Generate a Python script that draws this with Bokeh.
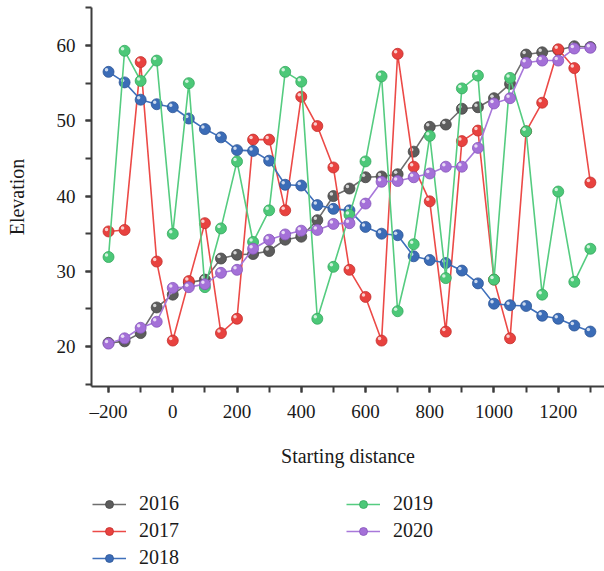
from bokeh.plotting import figure
from bokeh.models import Range1d, Legend, LegendItem, SingleIntervalTicker
from bokeh.layouts import column
from bokeh.embed import file_html
from bokeh.resources import INLINE

distance = [-200, -150, -100, -50, 0, 50, 100, 150, 200, 250, 300, 350, 400, 450, 500, 550,
            600, 650, 700, 750, 800, 850, 900, 950, 1000, 1050, 1100, 1150, 1200, 1250, 1300]

elev_2016 = [20.5, 20.7, 21.8, 25.2, 26.9, 28.5, 28.9, 31.7, 32.2, 32.3, 32.7, 34.2, 34.6, 36.8, 40.0, 41.0,
             42.5, 42.6, 42.9, 45.9, 49.2, 49.5, 51.6, 51.8, 53.0, 54.9, 58.8, 59.1, 59.4, 59.9, 59.8]
elev_2017 = [35.3, 35.5, 57.8, 31.3, 20.8, 28.7, 36.4, 21.8, 23.7, 47.5, 47.5, 38.1, 53.2, 49.3, 43.8, 30.2,
             26.6, 20.8, 58.9, 43.9, 39.3, 22.0, 47.3, 48.7, 28.9, 21.1, 48.6, 52.4, 59.5, 57.0, 41.8]
elev_2018 = [56.5, 55.1, 52.8, 52.2, 51.8, 50.3, 48.9, 47.8, 46.1, 46.0, 44.7, 41.5, 41.4, 38.8, 38.3, 38.1,
             35.9, 35.0, 34.8, 32.0, 31.5, 31.1, 30.1, 28.4, 25.7, 25.5, 25.4, 24.1, 23.7, 22.8, 22.0]
elev_2019 = [31.9, 59.3, 55.3, 58.0, 35.0, 55.0, 27.9, 35.7, 44.6, 33.9, 38.1, 56.5, 55.2, 23.7, 30.6, 37.5,
             44.6, 55.9, 24.7, 33.6, 48.0, 29.1, 54.3, 56.0, 28.9, 55.7, 48.6, 26.9, 40.6, 28.6, 33.0]
elev_2020 = [20.4, 21.1, 22.5, 23.3, 27.8, 27.9, 28.3, 29.8, 30.2, 33.0, 34.2, 34.9, 35.4, 35.5, 36.3, 36.4,
             39.0, 41.9, 42.0, 42.5, 43.0, 43.9, 43.9, 46.4, 52.3, 53.0, 57.7, 58.0, 58.0, 59.6, 59.7]

years = ["2016", "2017", "2018", "2019", "2020"]
series = [elev_2016, elev_2017, elev_2018, elev_2019, elev_2020]
fill_colors = ["#5c5c5c", "#e8423f", "#3b6cb7", "#4cc878", "#a470d8"]
edge_colors = ["#454545", "#c42f2c", "#2d5596", "#35a85e", "#8756bb"]
line_colors = ["#6e6e6e", "#ec4a47", "#3f70bb", "#55cc80", "#a878da"]

X0, X1 = -253, 1344
Y0, Y1 = 14.7, 65.05
FW, FH = 513, 379
TOP_H = 480

p = figure(width=604, height=TOP_H,
           output_backend="svg", toolbar_location=None,
           x_range=Range1d(X0, X1), y_range=Range1d(Y0, Y1),
           min_border_left=91, min_border_right=0, min_border_top=7,
           min_border_bottom=TOP_H - 7 - FH)
p.outline_line_color = None
p.xgrid.visible = False
p.ygrid.visible = False
p.background_fill_color = "white"
p.border_fill_color = "white"

font = "Liberation Serif"
for ax in (p.xaxis[0], p.yaxis[0]):
    ax.axis_line_width = 2
    ax.axis_line_color = "#3d3d3d"
    ax.major_tick_line_color = "#3d3d3d"
    ax.minor_tick_line_color = "#3d3d3d"
    ax.major_tick_line_width = 2
    ax.minor_tick_line_width = 2
    ax.major_tick_out = 6
    ax.major_tick_in = 0
    ax.minor_tick_out = 6
    ax.minor_tick_in = 0
    ax.major_label_text_font = font
    ax.major_label_text_font_size = "19px"
    ax.major_label_text_color = "#1a1a1a"
    ax.axis_label_text_font = font
    ax.axis_label_text_font_size = "20px"
    ax.axis_label_text_font_style = "normal"
    ax.axis_label_text_color = "#1a1a1a"

p.xaxis.ticker = SingleIntervalTicker(interval=200, num_minor_ticks=2)
p.yaxis.ticker = SingleIntervalTicker(interval=10, num_minor_ticks=2)
p.xaxis.major_label_overrides = {-200: "\u2013200"}
p.xaxis.axis_label = "Starting distance"
p.yaxis.axis_label = "Elevation"
p.xaxis.major_label_standoff = 8
p.xaxis.axis_label_standoff = 20
p.yaxis.major_label_standoff = 10
p.yaxis.axis_label_standoff = 26

dx = 2.0 * (X1 - X0) / FW
dy = 2.0 * (Y1 - Y0) / FH

for yr, vals, fc, ec, lc in zip(years, series, fill_colors, edge_colors, line_colors):
    p.line(distance, vals, line_color=lc, line_width=1.6)
    p.scatter(distance, vals, size=11, fill_color=fc, line_color=ec, line_width=0.8)
    p.scatter([d - dx for d in distance], [v + dy for v in vals], size=3.5,
              fill_color="white", fill_alpha=0.75, line_color=None)

# legend panel below the chart (its renderers lie outside its own ranges, so only the legend shows)
q = figure(width=604, height=571 - TOP_H, output_backend="svg", toolbar_location=None,
           x_range=Range1d(0, 1), y_range=Range1d(0, 1),
           x_axis_type=None, y_axis_type=None,
           min_border_left=0, min_border_right=0, min_border_top=0, min_border_bottom=0)
q.outline_line_color = None
q.xgrid.visible = False
q.ygrid.visible = False
q.background_fill_color = "white"
q.border_fill_color = "white"

items = []
for yr, vals, fc, ec, lc in zip(years, series, fill_colors, edge_colors, line_colors):
    ln = q.line(distance, vals, line_color=lc, line_width=1.6)
    sc = q.scatter(distance, vals, size=11, fill_color=fc, line_color=ec, line_width=0.8)
    items.append(LegendItem(label=yr, renderers=[ln, sc]))

legend = Legend(items=items, location=(1, 2), orientation="vertical", nrows=3,
                glyph_width=34, glyph_height=20, label_height=20, label_standoff=13,
                label_width=203, spacing=4, padding=0, margin=0,
                label_text_font=font, label_text_font_size="20px", label_text_color="#1a1a1a",
                border_line_color=None, background_fill_alpha=0)
q.add_layout(legend, "center")

layout = column(p, q, spacing=0)
open("out.html", "w").write(file_html(layout, INLINE))
